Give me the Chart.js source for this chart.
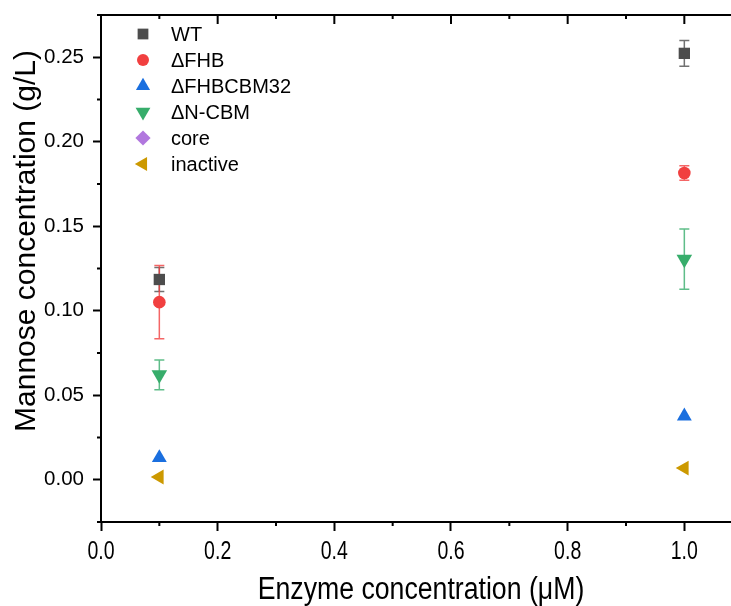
<!DOCTYPE html>
<html>
<head>
<meta charset="utf-8">
<script src="https://cdn.jsdelivr.net/npm/chart.js@4.4.0/dist/chart.umd.min.js"></script>
<style>
  html, body { margin: 0; padding: 0; background: #fff; overflow: hidden; }
  #wrap { width: 731px; height: 606px; position: relative; }
  #grafico { display: block; }
</style>
</head>
<body>
<div id="wrap"><canvas id="grafico"></canvas></div>
<script>
// ==================== DATOS ====================
var concentraciones = [0.1, 1.0];

var valWT = [0.1185, 0.2523];
var errWT = [0.0071, 0.0076];
var valFHB = [0.1051, 0.1815];
var errFHB = [0.0217, 0.0043];
var valFHBCBM32 = [0.0130, 0.0376];
var errFHBCBM32 = [0, 0];
var valNCBM = [0.0621, 0.1305];
var errNCBM = [0.0088, 0.0178];
var valCore = [null, null];
var errCore = [0, 0];
var valInactive = [0.0016, 0.0069];
var errInactive = [0, 0];

var xTicks = [0, 0.2, 0.4, 0.6, 0.8, 1.0];
var yTicks = [0, 0.05, 0.10, 0.15, 0.20, 0.25];

var tituloX = 'Enzyme concentration (\u03BCM)';
var tituloY = 'Mannose concentration (g/L)';

// ==================== ESTILOS ====================
var FUENTE = "'Liberation Sans', Arial, Helvetica, sans-serif";

var series = [
  { label: 'WT',        vals: valWT,        errs: errWT,        color: '#4d4d4d', style: 'rect',     rot: 0,   r: 8 },
  { label: '\u0394FHB', vals: valFHB,       errs: errFHB,       color: '#f14040', style: 'circle',   rot: 0,   r: 6.3 },
  { label: '\u0394FHBCBM32', vals: valFHBCBM32, errs: errFHBCBM32, color: '#1a6fdf', style: 'triangle', rot: 0,   r: 8.6 },
  { label: '\u0394N-CBM',    vals: valNCBM,     errs: errNCBM,     color: '#37ad6b', style: 'triangle', rot: 180, r: 9 },
  { label: 'core',      vals: valCore,      errs: errCore,      color: '#b177de', style: 'rectRot',  rot: 0,   r: 8 },
  { label: 'inactive',  vals: valInactive,  errs: errInactive,  color: '#cc9900', style: 'triangle', rot: 270, r: 8.6 }
];

function hexAlpha(hex, a) {
  var n = parseInt(hex.slice(1), 16);
  return 'rgba(' + ((n >> 16) & 255) + ',' + ((n >> 8) & 255) + ',' + (n & 255) + ',' + a + ')';
}

function puntos(vals) {
  return concentraciones.map(function (x, i) { return { x: x, y: vals[i] }; });
}

// ticks menores: puntos medios entre mayores (y medio paso fuera de los extremos)
function menores(mayores, min, max) {
  var paso = mayores[1] - mayores[0];
  var out = [];
  for (var v = mayores[0] - paso / 2; v <= max + 1e-9; v += paso) {
    if (v >= min - 1e-9) out.push(v);
  }
  return out;
}

// texto condensado horizontalmente
function textoEstrecho(ctx, txt, x, y, escala) {
  ctx.save();
  ctx.translate(x, y);
  ctx.scale(escala, 1);
  ctx.fillText(txt, 0, 0);
  ctx.restore();
}

// ==================== PLUGIN ====================
var pluginExtras = {
  id: 'extras',
  beforeDatasetsDraw: function (chart) {
    var ctx = chart.ctx, xs = chart.scales.x, ys = chart.scales.y;
    ctx.save();
    series.forEach(function (s) {
      ctx.strokeStyle = hexAlpha(s.color, 0.8);
      ctx.lineWidth = 1.5;
      concentraciones.forEach(function (x, i) {
        if (s.vals[i] == null || !s.errs[i]) return;
        var px = xs.getPixelForValue(x);
        var top = ys.getPixelForValue(s.vals[i] + s.errs[i]);
        var bot = ys.getPixelForValue(s.vals[i] - s.errs[i]);
        ctx.beginPath();
        ctx.moveTo(px, top); ctx.lineTo(px, bot);
        ctx.moveTo(px - 5, top); ctx.lineTo(px + 5, top);
        ctx.moveTo(px - 5, bot); ctx.lineTo(px + 5, bot);
        ctx.stroke();
      });
    });
    ctx.restore();
  },
  afterDraw: function (chart) {
    var ctx = chart.ctx, xs = chart.scales.x, ys = chart.scales.y, a = chart.chartArea;
    ctx.save();
    ctx.strokeStyle = '#000';
    ctx.lineWidth = 2;

    // marco superior
    ctx.beginPath();
    ctx.moveTo(a.left - 1, a.top);
    ctx.lineTo(a.right, a.top);
    ctx.stroke();

    // ticks superiores (hacia dentro) y menores
    ctx.beginPath();
    xTicks.forEach(function (v) {
      var px = xs.getPixelForValue(v);
      ctx.moveTo(px, a.top); ctx.lineTo(px, a.top + 9);
    });
    menores(xTicks, xs.min, xs.max).forEach(function (v) {
      var px = xs.getPixelForValue(v);
      ctx.moveTo(px, a.top); ctx.lineTo(px, a.top + 4);
      ctx.moveTo(px, a.bottom); ctx.lineTo(px, a.bottom + 4);
    });
    menores(yTicks, ys.min, ys.max).forEach(function (v) {
      var py = ys.getPixelForValue(v);
      ctx.moveTo(a.left, py); ctx.lineTo(a.left - 4, py);
    });
    ctx.stroke();

    // etiquetas eje x (condensadas)
    ctx.fillStyle = '#000';
    ctx.textAlign = 'center';
    ctx.textBaseline = 'middle';
    ctx.font = '25px ' + FUENTE;
    xTicks.forEach(function (v) {
      textoEstrecho(ctx, v.toFixed(1), xs.getPixelForValue(v), a.bottom + 30, 0.78);
    });

    // titulos de ejes
    ctx.font = '31px ' + FUENTE;
    textoEstrecho(ctx, tituloX, 421, 590, 0.86);
    ctx.save();
    ctx.translate(27, 241);
    ctx.rotate(-Math.PI / 2);
    ctx.font = '30px ' + FUENTE;
    ctx.fillText(tituloY, 0, 0);
    ctx.restore();

    // leyenda
    ctx.textAlign = 'left';
    ctx.font = '20px ' + FUENTE;
    series.forEach(function (s, i) {
      var y = 34 + i * 26;
      ctx.fillStyle = s.color;
      Chart.helpers.drawPoint(ctx, { pointStyle: s.style, rotation: s.rot, radius: s.r * 0.95, borderWidth: 0 }, 143, y);
      ctx.fillStyle = '#000';
      ctx.fillText(s.label, 171, y + 1);
    });
    ctx.restore();
  }
};

// ==================== CHART ====================
function init() {
  var ctx = document.getElementById('grafico').getContext('2d');
  new Chart(ctx, {
    type: 'scatter',
    data: {
      datasets: series.map(function (s) {
        return {
          label: s.label,
          data: puntos(s.vals),
          showLine: false,
          pointStyle: s.style,
          rotation: s.rot,
          pointRadius: s.r,
          pointHoverRadius: s.r,
          pointBackgroundColor: s.color,
          pointBorderWidth: 0
        };
      })
    },
    options: {
      responsive: true,
      maintainAspectRatio: false,
      animation: false,
      layout: { autoPadding: false, padding: { top: 15, left: 0, right: 0, bottom: 0 } },
      plugins: {
        legend: { display: false },
        tooltip: { enabled: false },
        title: { display: false }
      },
      scales: {
        x: {
          type: 'linear',
          min: 0,
          max: 1.08,
          afterBuildTicks: function (s) { s.ticks = xTicks.map(function (v) { return { value: v }; }); },
          afterFit: function (s) { s.height = 84; s.paddingLeft = 0; s.paddingRight = 0; },
          grid: { drawOnChartArea: false, drawTicks: true, tickLength: 9, tickWidth: 2, tickColor: '#000' },
          border: { display: true, color: '#000', width: 2 },
          ticks: { display: false, autoSkip: false, maxRotation: 0 }
        },
        y: {
          type: 'linear',
          min: -0.025,
          max: 0.275,
          afterBuildTicks: function (s) { s.ticks = yTicks.map(function (v) { return { value: v }; }); },
          afterFit: function (s) { s.width = 101; s.paddingTop = 0; s.paddingBottom = 0; },
          grid: { drawOnChartArea: false, drawTicks: true, tickLength: 8, tickWidth: 2, tickColor: '#000' },
          border: { display: true, color: '#000', width: 2 },
          ticks: {
            color: '#000',
            padding: 9,
            autoSkip: false,
            font: { family: FUENTE, size: 20.5 },
            callback: function (v) { return Number(v).toFixed(2); }
          }
        }
      }
    },
    plugins: [pluginExtras]
  });
}

init();
</script>
</body>
</html>
